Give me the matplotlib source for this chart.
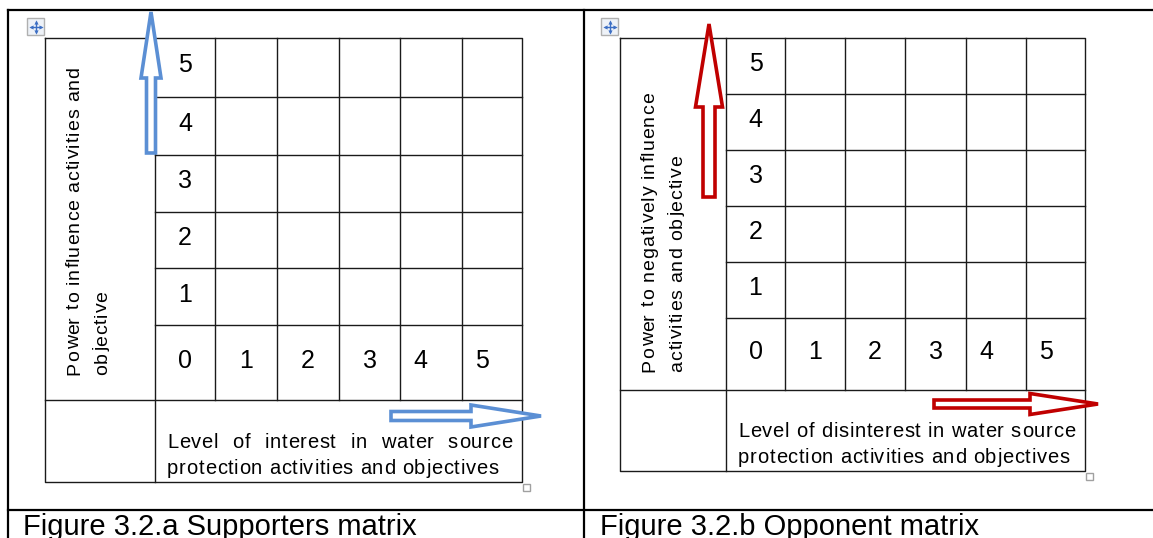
import matplotlib
matplotlib.use("Agg")
import matplotlib.pyplot as plt
from matplotlib.patches import Polygon, Rectangle
from matplotlib.font_manager import FontProperties

plt.rcParams['font.family'] = ['Liberation Sans', 'DejaVu Sans']

W, H = 1153, 538

# contents of the two matrices
row_labels = ["5", "4", "3", "2", "1", "0"]
col_labels = ["1", "2", "3", "4", "5"]
col_align = ["center", "center", "center", "left", "left"]
left_power = ["Power to influence activities and", "objective"]
right_power = ["Power to negatively influence", "activities and objective"]
left_level = ["Level of interest in water source", "protection activities and objectives"]
right_level = ["Level of disinterest in water source", "protection activities and objectives"]
captions = ["Figure 3.2.a Supporters matrix", "Figure 3.2.b Opponent matrix"]

# table grid edges in pixels
left_cols = [45, 155, 215, 277, 339, 400, 462, 522]
left_rows = [38, 97, 155, 212, 268, 325, 400, 482]
right_cols = [620, 726, 785, 845, 905, 966, 1026, 1085]
right_rows = [38, 94, 150, 206, 262, 318, 390, 471]

BLUE = "#5b8fd4"
RED = "#c00000"
LINE = "#1a1a1a"

fig = plt.figure(figsize=(W / 100, H / 100), dpi=100)
ax = fig.add_axes([0, 0, 1, 1])
ax.set_xlim(0, W)
ax.set_ylim(H, 0)
ax.axis("off")
renderer = fig.canvas.get_renderer()


def width(s, size):
    # ink width of s in pixels
    fp = FontProperties(family=["Liberation Sans"], size=size)
    return renderer.get_text_width_height_descent(s, fp, ismath=False)[0]


def tracked(x, y, s, size, track, rot=False):
    # word-processor style text with a bit of letter spacing
    for i, ch in enumerate(s):
        if ch == " ":
            continue
        off = width(s[:i + 1], size) - width(ch, size) + i * track
        if rot:
            ax.text(x, y - off, ch, fontsize=size, rotation=90,
                    rotation_mode="anchor", ha="left", va="baseline")
        else:
            ax.text(x + off, y, ch, fontsize=size, ha="left", va="baseline")


def justify(x0, x1, y, line, size, track):
    words = line.split()
    widths = [width(w, size) + (len(w) - 1) * track for w in words]
    gap = (x1 - x0 - sum(widths)) / (len(words) - 1)
    x = x0
    for w, wd in zip(words, widths):
        tracked(x, y, w, size, track)
        x += wd + gap


def table(cols, rows, power, level, pw_dy, lv_dy):
    kw = dict(color=LINE, lw=1.0, solid_capstyle="projecting")
    ax.plot([cols[0], cols[-1], cols[-1], cols[0], cols[0]],
            [rows[0], rows[0], rows[-1], rows[-1], rows[0]], **kw)
    ax.plot([cols[1], cols[1]], [rows[0], rows[-1]], **kw)
    for x in cols[2:-1]:
        ax.plot([x, x], [rows[0], rows[-2]], **kw)
    for y in rows[1:-2]:
        ax.plot([cols[1], cols[-1]], [y, y], **kw)
    ax.plot([cols[0], cols[-1]], [rows[-2], rows[-2]], **kw)

    cx = (cols[1] + cols[2]) / 2
    for i, lab in enumerate(row_labels):
        cy = (rows[i] + rows[i + 1]) / 2 - 2
        ax.text(cx, cy, lab, fontsize=18, ha="center", va="center")
    cy = (rows[-3] + rows[-2]) / 2 - 2
    for j, lab in enumerate(col_labels):
        a, b = cols[j + 2], cols[j + 3]
        if col_align[j] == "center":
            ax.text((a + b) / 2, cy, lab, fontsize=18, ha="center", va="center")
        else:
            ax.text(a + 13, cy, lab, fontsize=18, ha="left", va="center")

    # rotated axis label, two lines
    for k, line in enumerate(power):
        tracked(cols[0] + 34 + 28 * k, rows[-2] - pw_dy, line, 14, 0.9, rot=True)

    # level label under the grid, first line justified
    y1 = rows[-2] + lv_dy
    justify(cols[1] + 12, cols[-1] - 10, y1, level[0], 14.5, 0.7)
    tracked(cols[1] + 12, y1 + 26, level[1], 14.5, 0.7)

    # little resize handle under the table
    ax.add_patch(Rectangle((cols[-1] + 1, rows[-1] + 2), 7, 7, fc="white",
                           ec="#a0a0a0", lw=1.0))


def up_arrow(cx, yb, yt, yh, sw, hw, color):
    pts = [(cx - sw, yb), (cx - sw, yh), (cx - hw, yh), (cx, yt),
           (cx + hw, yh), (cx + sw, yh), (cx + sw, yb)]
    ax.add_patch(Polygon(pts, closed=True, fc="white", ec=color, lw=2.6,
                         joinstyle="miter", zorder=3))


def right_arrow(xl, xt, xh, cy, sw, hw, color):
    pts = [(xl, cy - sw), (xh, cy - sw), (xh, cy - hw), (xt, cy),
           (xh, cy + hw), (xh, cy + sw), (xl, cy + sw)]
    ax.add_patch(Polygon(pts, closed=True, fc="white", ec=color, lw=2.6,
                         joinstyle="miter", zorder=3))


def move_icon(x, y):
    ax.add_patch(Rectangle((x, y), 17, 17, fc="#eef2f8", ec="#b0b0b0", lw=1.0))
    c = (x + 8.5, y + 8.5)
    ax.plot([c[0] - 5, c[0] + 5], [c[1], c[1]], color="#3d6fc4", lw=1.0)
    ax.plot([c[0], c[0]], [c[1] - 5, c[1] + 5], color="#3d6fc4", lw=1.0)
    for dx, dy, m in [(-5, 0, "<"), (5, 0, ">"), (0, -5, "^"), (0, 5, "v")]:
        ax.plot(c[0] + dx, c[1] + dy, marker=m, ms=3, color="#3d6fc4", mec="none")


# outer document table frame
fk = dict(color="black", lw=1.6)
ax.plot([8, W], [10, 10], **fk)
ax.plot([8, W], [510, 510], **fk)
ax.plot([8, 8], [10, H], **fk)
ax.plot([584, 584], [10, H], **fk)

table(left_cols, left_rows, left_power, left_level, 25, 48)
table(right_cols, right_rows, right_power, right_level, 18, 47)

up_arrow(151, 153, 12, 78, 4.5, 10, BLUE)
right_arrow(391, 541, 471, 416, 4.5, 11, BLUE)
up_arrow(709, 197, 24, 107, 6, 13.5, RED)
right_arrow(934, 1098, 1030, 404, 4, 10.5, RED)

move_icon(27, 18)
move_icon(601, 18)

ax.text(23, 535, captions[0], fontsize=21, ha="left", va="baseline")
ax.text(600, 535, captions[1], fontsize=21, ha="left", va="baseline")

fig.savefig("out.png", dpi=100)
